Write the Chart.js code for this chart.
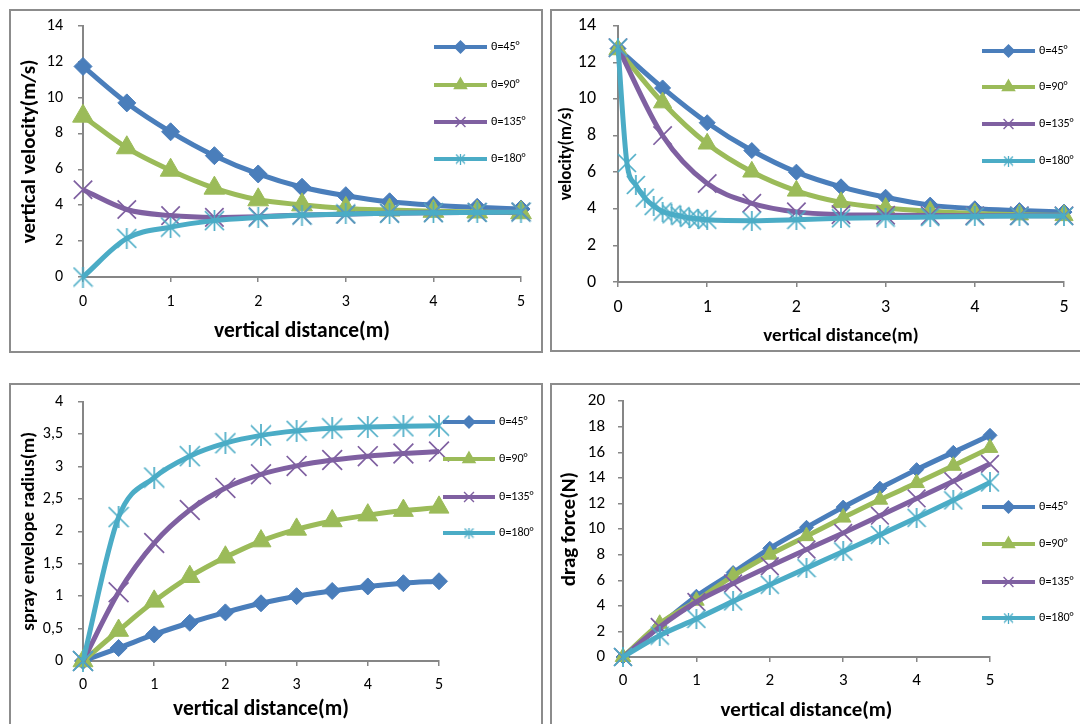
<!DOCTYPE html>
<html>
<head>
<meta charset="utf-8">
<script src="https://cdn.jsdelivr.net/npm/chart.js@4.4.1/dist/chart.umd.min.js"></script>
<style>
  html, body { margin: 0; padding: 0; background: #fff; }
  body { width: 1080px; height: 724px; position: relative; overflow: hidden; }
  .box { position: absolute; border: 2px solid #8c8c8c; box-sizing: border-box; }
  canvas { position: absolute; }
</style>
</head>
<body>
<div class="box" style="left:9px;top:9px;width:534px;height:344px"></div>
<div class="box" style="left:550px;top:9px;width:540px;height:343px"></div>
<div class="box" style="left:9px;top:383px;width:534px;height:360px"></div>
<div class="box" style="left:550px;top:383px;width:540px;height:360px"></div>

<canvas id="c1" style="left:12px;top:11px" width="528" height="340"></canvas>
<canvas id="c2" style="left:553px;top:11px" width="527" height="339"></canvas>
<canvas id="c3" style="left:12px;top:386px" width="528" height="338"></canvas>
<canvas id="c4" style="left:553px;top:387px" width="527" height="337"></canvas>

<script>
// Data
const seriesNames = ['θ=45°', 'θ=90°', 'θ=135°', 'θ=180°'];
const distance = [0, 0.5, 1, 1.5, 2, 2.5, 3, 3.5, 4, 4.5, 5];
const distance180 = [0, 0.1, 0.2, 0.3, 0.4, 0.5, 0.6, 0.7, 0.8, 0.9, 1, 1.5, 2, 2.5, 3, 3.5, 4, 4.5, 5];

// vertical velocity (m/s)
const vvel45 = [11.73, 9.7, 8.09, 6.76, 5.74, 5.0, 4.53, 4.19, 4.0, 3.88, 3.79];
const vvel90 = [8.96, 7.2, 5.95, 4.95, 4.3, 4.02, 3.82, 3.73, 3.66, 3.62, 3.58];
const vvel135 = [4.86, 3.76, 3.42, 3.32, 3.36, 3.45, 3.5, 3.55, 3.58, 3.6, 3.62];
const vvel180 = [0, 2.15, 2.78, 3.14, 3.32, 3.45, 3.51, 3.55, 3.58, 3.6, 3.62];

// velocity (m/s)
const vel45 = [12.75, 10.6, 8.7, 7.18, 6.0, 5.2, 4.63, 4.2, 4.0, 3.9, 3.82];
const vel90 = [12.7, 9.8, 7.55, 6.02, 4.98, 4.35, 4.04, 3.86, 3.74, 3.68, 3.64];
const vel135 = [12.8, 8.0, 5.38, 4.3, 3.83, 3.68, 3.65, 3.63, 3.62, 3.62, 3.62];
const vel180 = [12.8, 6.5, 5.3, 4.6, 4.15, 3.85, 3.7, 3.6, 3.5, 3.45, 3.4, 3.35, 3.4, 3.48, 3.52, 3.55, 3.58, 3.6, 3.6];

// spray envelope radius (m)
const rad45 = [0, 0.2, 0.41, 0.59, 0.75, 0.89, 1.0, 1.08, 1.15, 1.2, 1.23];
const rad90 = [0, 0.47, 0.92, 1.3, 1.6, 1.85, 2.03, 2.16, 2.25, 2.32, 2.37];
const rad135 = [0, 1.06, 1.82, 2.33, 2.67, 2.88, 3.01, 3.1, 3.16, 3.2, 3.23];
const rad180 = [0, 2.22, 2.83, 3.16, 3.36, 3.48, 3.55, 3.59, 3.61, 3.62, 3.63];

// drag force (N)
const drag45 = [0, 2.46, 4.75, 6.6, 8.5, 10.14, 11.72, 13.2, 14.65, 16.0, 17.33];
const drag90 = [0, 2.6, 4.4, 6.35, 8.0, 9.45, 10.9, 12.3, 13.6, 14.95, 16.35];
const drag135 = [0, 2.35, 4.3, 5.75, 7.1, 8.4, 9.7, 11.05, 12.4, 13.75, 15.1];
const drag180 = [0, 1.68, 2.98, 4.35, 5.65, 6.95, 8.25, 9.55, 10.88, 12.25, 13.65];

const colors = ['#4a7ebb', '#9bbb59', '#7f60a1', '#4bacc6'];
const FONT = 'Carlito, Lato, sans-serif';
const AXIS = '#868686';

// Excel-like asterisk marker (X plus vertical bar)
function starMarker(size, color, lw) {
    const c = document.createElement('canvas');
    c.width = size;
    c.height = size;
    const g = c.getContext('2d');
    g.strokeStyle = color;
    g.lineWidth = lw;
    const a = 1, b = size - 1;
    g.beginPath();
    g.moveTo(a, a); g.lineTo(b, b);
    g.moveTo(b, a); g.lineTo(a, b);
    g.moveTo(size / 2, 0); g.lineTo(size / 2, size);
    g.stroke();
    return c;
}

function pts(xs, ys) {
    return xs.map((x, i) => ({ x: x, y: ys[i] }));
}

// sizes: [diamond r, triangle r, x r, star px]
function series(xs, ys, i, sizes) {
    const styles = ['rectRot', 'triangle', 'crossRot', starMarker(sizes[3], colors[3], 1.7)];
    return {
        label: seriesNames[i],
        data: pts(xs, ys),
        borderColor: colors[i],
        backgroundColor: colors[i],
        borderWidth: 5,
        pointStyle: styles[i],
        pointRadius: i === 3 ? sizes[3] / 2 : sizes[i],
        pointBorderWidth: i >= 2 ? 1.7 : 1,
        pointBackgroundColor: colors[i],
        pointBorderColor: colors[i],
        cubicInterpolationMode: 'monotone',
        clip: false,
        order: 3 - i
    };
}

// Legend drawn at fixed spot to the right, like the Excel layout
const sideLegend = {
    id: 'sideLegend',
    afterDraw(chart, args, opts) {
        if (!opts || !opts.ys) return;
        const ctx = chart.ctx;
        const markers = ['rectRot', 'triangle', 'crossRot', starMarker(11, colors[3], 1.3)];
        const radii = [6, 7, 7, 5.5];
        ctx.save();
        chart.data.datasets.forEach((ds, i) => {
            const y = opts.ys[i];
            ctx.strokeStyle = colors[i];
            ctx.lineWidth = 4;
            ctx.beginPath();
            ctx.moveTo(opts.x0, y);
            ctx.lineTo(opts.x1, y);
            ctx.stroke();
            ctx.fillStyle = colors[i];
            ctx.lineWidth = 1.4;
            Chart.helpers.drawPoint(ctx, { pointStyle: markers[i], radius: radii[i], rotation: 0, borderWidth: 1.4 }, (opts.x0 + opts.x1) / 2, y);
            ctx.fillStyle = '#000';
            ctx.font = '12px ' + FONT;
            ctx.textAlign = 'left';
            ctx.textBaseline = 'middle';
            ctx.fillText(ds.label, opts.tx, y);
        });
        ctx.restore();
    }
};

function makeChart(id, cfg) {
    return new Chart(document.getElementById(id), {
        type: 'line',
        data: { datasets: cfg.datasets },
        options: {
            responsive: false,
            animation: false,
            events: [],
            layout: { padding: cfg.padding },
            plugins: {
                legend: { display: false },
                tooltip: { enabled: false },
                sideLegend: cfg.legend
            },
            scales: {
                x: {
                    type: 'linear',
                    min: 0,
                    max: 5,
                    ticks: { stepSize: 1, color: '#000', font: { family: FONT, size: cfg.tickSize }, padding: cfg.xTickPad },
                    grid: { drawOnChartArea: false, drawTicks: true, tickLength: 5, color: AXIS, lineWidth: 1.5 },
                    border: { color: AXIS, width: 2 },
                    title: {
                        display: true,
                        text: 'vertical distance(m)',
                        color: '#000',
                        font: { family: FONT, size: cfg.xTitleSize, weight: 'bold' },
                        padding: { top: 0, bottom: cfg.xTitlePad }
                    },
                    afterFit: s => {
                        s.height = cfg.xHeight;
                        s.paddingLeft = 0;
                        s.paddingRight = 0;
                    }
                },
                y: {
                    min: cfg.yMin,
                    max: cfg.yMax,
                    ticks: {
                        stepSize: cfg.yStep,
                        color: '#000',
                        font: { family: FONT, size: cfg.tickSize },
                        padding: cfg.yTickPad,
                        callback: v => String(v).replace('.', ',')
                    },
                    grid: { drawOnChartArea: false, drawTicks: true, tickLength: 5, color: AXIS, lineWidth: 1.5 },
                    border: { color: AXIS, width: 2 },
                    title: {
                        display: true,
                        text: cfg.yTitle,
                        color: '#000',
                        font: { family: FONT, size: cfg.yTitleSize, weight: 'bold' },
                        padding: { top: cfg.yTitlePad, bottom: 0 }
                    },
                    afterFit: s => {
                        s.width = cfg.yWidth;
                        s.paddingTop = 0;
                        s.paddingBottom = 0;
                    }
                }
            }
        },
        plugins: [sideLegend]
    });
}

// vertical velocity
const sz1 = [9, 12, 13, 21];
makeChart('c1', {
    datasets: [
        series(distance, vvel45, 0, sz1),
        series(distance, vvel90, 1, sz1),
        series(distance, vvel135, 2, sz1),
        series(distance, vvel180, 3, sz1)
    ],
    yMin: 0, yMax: 14, yStep: 2,
    yTitle: 'vertical velocity(m/s)',
    padding: { left: 0, top: 13, right: 19, bottom: 0 },
    yWidth: 71, xHeight: 74,
    tickSize: 16, xTickPad: 10, yTickPad: 15,
    xTitleSize: 21.5, xTitlePad: 6, yTitleSize: 21, yTitlePad: 5,
    legend: { x0: 422, x1: 475, tx: 479, ys: [36, 74, 111, 148] }
});

// velocity
const sz2 = [8, 10.5, 13, 20];
makeChart('c2', {
    datasets: [
        series(distance, vel45, 0, sz2),
        series(distance, vel90, 1, sz2),
        series(distance, vel135, 2, sz2),
        series(distance180, vel180, 3, sz2)
    ],
    yMin: 0, yMax: 14, yStep: 2,
    yTitle: 'velocity(m/s)',
    padding: { left: 0, top: 11, right: 16, bottom: 0 },
    yWidth: 65, xHeight: 68,
    tickSize: 18, xTickPad: 10, yTickPad: 17,
    xTitleSize: 19, xTitlePad: 2, yTitleSize: 17, yTitlePad: 4,
    legend: { x0: 429, x1: 482, tx: 486, ys: [40, 76, 113, 150] }
});

// spray envelope radius
const sz3 = [8.5, 11.5, 14, 22];
makeChart('c3', {
    datasets: [
        series(distance, rad45, 0, sz3),
        series(distance, rad90, 1, sz3),
        series(distance, rad135, 2, sz3),
        series(distance, rad180, 3, sz3)
    ],
    yMin: 0, yMax: 4, yStep: 0.5,
    yTitle: 'spray envelope radius(m)',
    padding: { left: 0, top: 13, right: 101, bottom: 0 },
    yWidth: 71, xHeight: 63,
    tickSize: 16, xTickPad: 9, yTickPad: 15,
    xTitleSize: 21.5, xTitlePad: 1, yTitleSize: 19, yTitlePad: 6,
    legend: { x0: 431, x1: 483, tx: 487, ys: [36, 73, 111, 147] }
});

// drag force
const sz4 = [7, 9, 12.5, 20];
makeChart('c4', {
    datasets: [
        series(distance, drag45, 0, sz4),
        series(distance, drag90, 1, sz4),
        series(distance, drag135, 2, sz4),
        series(distance, drag180, 3, sz4)
    ],
    yMin: 0, yMax: 20, yStep: 2,
    yTitle: 'drag force(N)',
    padding: { left: 0, top: 12, right: 90, bottom: 0 },
    yWidth: 70, xHeight: 67,
    tickSize: 17, xTickPad: 9, yTickPad: 13,
    xTitleSize: 21, xTitlePad: 1, yTitleSize: 21, yTitlePad: 4,
    legend: { x0: 429, x1: 482, tx: 486, ys: [120, 157, 195, 231] }
});
</script>
</body>
</html>
